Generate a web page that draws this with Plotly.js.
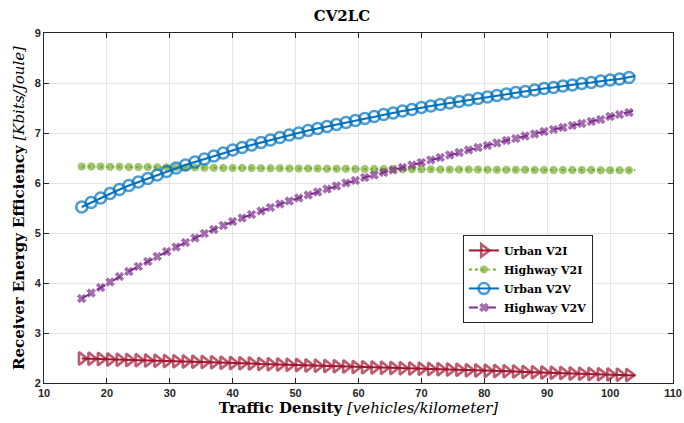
<!DOCTYPE html>
<html>
<head>
<meta charset="utf-8">
<script src="https://cdn.plot.ly/plotly-3.0.1.min.js"></script>
<style>html,body{margin:0;padding:0;background:#fff;}#chart{width:684px;height:423px;}</style>
</head>
<body>
<div id="chart"></div>
<script>
// Traffic density (vehicles/km); markers at all points except the last line point
const density = [16, 17.5, 19, 20.5, 22, 23.5, 25, 26.5, 28, 29.5, 31, 32.5, 34, 35.5, 37, 38.5, 40, 41.5, 43, 44.5,
  46, 47.5, 49, 50.5, 52, 53.5, 55, 56.5, 58, 59.5, 61, 62.5, 64, 65.5, 67, 68.5, 70, 71.5, 73, 74.5,
  76, 77.5, 79, 80.5, 82, 83.5, 85, 86.5, 88, 89.5, 91, 92.5, 94, 95.5, 97, 98.5, 100, 101.5, 103, 104];

const urbanV2I = [2.49, 2.485, 2.48, 2.47, 2.465, 2.46, 2.455, 2.45, 2.445, 2.44, 2.435, 2.43, 2.425, 2.42, 2.415, 2.405, 2.40, 2.395, 2.39, 2.38,
  2.375, 2.37, 2.365, 2.36, 2.35, 2.345, 2.34, 2.335, 2.33, 2.32, 2.315, 2.31, 2.305, 2.30, 2.295, 2.29, 2.285, 2.28, 2.275, 2.27,
  2.265, 2.255, 2.25, 2.245, 2.24, 2.235, 2.23, 2.22, 2.215, 2.21, 2.205, 2.20, 2.19, 2.185, 2.18, 2.175, 2.17, 2.165, 2.16, 2.15];

const highwayV2I = [6.33, 6.33, 6.33, 6.325, 6.325, 6.32, 6.32, 6.32, 6.315, 6.315, 6.31, 6.31, 6.31, 6.305, 6.305, 6.30, 6.30, 6.30, 6.30, 6.295,
  6.295, 6.295, 6.29, 6.29, 6.29, 6.29, 6.285, 6.285, 6.285, 6.28, 6.28, 6.28, 6.28, 6.28, 6.275, 6.275, 6.275, 6.275, 6.27, 6.27,
  6.27, 6.27, 6.27, 6.265, 6.265, 6.265, 6.265, 6.265, 6.26, 6.26, 6.26, 6.26, 6.26, 6.26, 6.26, 6.255, 6.255, 6.255, 6.255, 6.255];

const urbanV2V = [5.52, 5.61, 5.70, 5.79, 5.87, 5.95, 6.02, 6.09, 6.16, 6.23, 6.30, 6.36, 6.42, 6.48, 6.54, 6.60, 6.66, 6.71, 6.76, 6.81,
  6.86, 6.91, 6.96, 7.00, 7.05, 7.09, 7.13, 7.17, 7.21, 7.25, 7.29, 7.33, 7.37, 7.40, 7.44, 7.47, 7.51, 7.54, 7.57, 7.60,
  7.63, 7.66, 7.69, 7.72, 7.75, 7.78, 7.81, 7.83, 7.86, 7.89, 7.91, 7.94, 7.96, 7.99, 8.01, 8.04, 8.06, 8.08, 8.11, 8.14];

const highwayV2V = [3.69, 3.80, 3.91, 4.02, 4.13, 4.23, 4.33, 4.43, 4.53, 4.63, 4.72, 4.81, 4.90, 4.99, 5.07, 5.15, 5.23, 5.30, 5.37, 5.44,
  5.51, 5.58, 5.64, 5.70, 5.76, 5.82, 5.88, 5.94, 6.00, 6.05, 6.11, 6.16, 6.21, 6.26, 6.31, 6.36, 6.41, 6.46, 6.51, 6.56,
  6.61, 6.66, 6.71, 6.75, 6.80, 6.85, 6.89, 6.94, 6.98, 7.03, 7.07, 7.11, 7.15, 7.19, 7.23, 7.27, 7.33, 7.37, 7.41, 7.45];

const seriesNames = ['Urban V2I', 'Highway V2I', 'Urban V2V', 'Highway V2V'];
const xTicks = [10, 20, 30, 40, 50, 60, 70, 80, 90, 100, 110];
const yTicks = [2, 3, 4, 5, 6, 7, 8, 9];

function sizes(n) { return density.map((d, i) => i === density.length - 1 ? 0 : n); }

const traces = [
  {x: density, y: urbanV2I, name: seriesNames[0], mode: 'lines+markers',
   line: {color: '#A2142F', width: 2},
   marker: {symbol: 'triangle-right-open', size: sizes(11), color: '#A2142F', line: {width: 2.6, color: '#A2142F'}}},
  {x: density, y: highwayV2I, name: seriesNames[1], mode: 'lines+markers',
   line: {color: '#77AC30', width: 2, dash: 'dot'},
   marker: {symbol: 'circle', size: sizes(9), color: '#77AC30'}},
  {x: density, y: urbanV2V, name: seriesNames[2], mode: 'lines+markers',
   line: {color: '#0072BD', width: 2},
   marker: {symbol: 'circle-open', size: sizes(11), color: '#0072BD', line: {width: 2.6, color: '#0072BD'}}},
  {x: density, y: highwayV2V, name: seriesNames[3], mode: 'lines+markers',
   line: {color: '#7E2F8E', width: 2, dash: 'dash'},
   marker: {symbol: 'x', size: sizes(7.5), color: '#7E2F8E', line: {width: 1, color: '#7E2F8E'}}}
];

const serif = 'DejaVu Serif, Liberation Serif, serif';
const tickFont = {family: 'Liberation Sans, Arial, sans-serif', size: 11, color: '#262626', weight: 'bold'};
const axisCommon = {
  showline: true, linecolor: '#262626', linewidth: 1, mirror: 'ticks',
  ticks: 'inside', ticklen: 5, tickcolor: '#262626',
  showgrid: true, gridcolor: '#e5e5e5', gridwidth: 1, zeroline: false,
  tickfont: tickFont
};

const layout = {
  width: 684, height: 423,
  margin: {l: 44, r: 11, t: 33, b: 40},
  paper_bgcolor: '#ffffff', plot_bgcolor: '#ffffff',
  showlegend: true,
  title: {text: '<b>CV2LC</b>', x: 0.5, xanchor: 'center', y: 0.975, yanchor: 'top',
          font: {family: serif, size: 15, color: '#000'}},
  xaxis: Object.assign({}, axisCommon, {
    range: [10, 110], tickvals: xTicks, ticktext: xTicks.map(String),
    title: {text: '<b>Traffic Density</b> <i>[vehicles/kilometer]</i>', standoff: 4,
            font: {family: serif, size: 15, color: '#000'}}
  }),
  yaxis: Object.assign({}, axisCommon, {
    range: [2, 9], tickvals: yTicks, ticktext: yTicks.map(String),
    title: {text: '<b>Receiver Energy Efficiency</b> <i>[Kbits/Joule]</i>', standoff: 6,
            font: {family: serif, size: 15, color: '#000'}}
  }),
  legend: {
    x: 0.666, y: 0.423, xanchor: 'left', yanchor: 'top',
    bgcolor: '#ffffff', bordercolor: '#262626', borderwidth: 1,
    font: {family: serif, size: 11, color: '#000', weight: 'bold'},
    itemwidth: 30, tracegroupgap: 0
  }
};

Plotly.newPlot('chart', traces, layout, {displayModeBar: false, staticPlot: true});
</script>
</body>
</html>
